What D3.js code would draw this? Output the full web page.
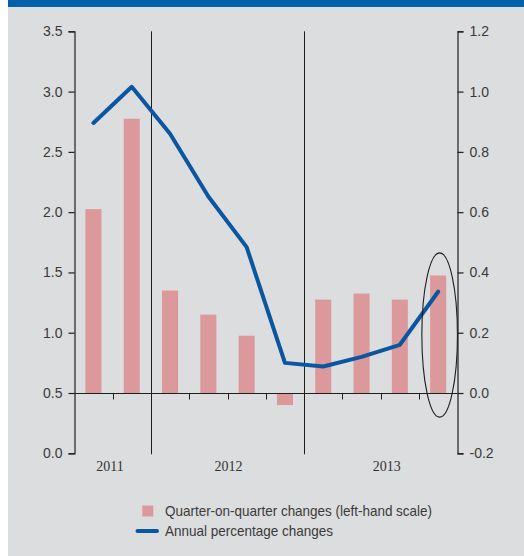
<!DOCTYPE html>
<html>
<head>
<meta charset="utf-8">
<script src="https://cdn.jsdelivr.net/npm/d3@7"></script>
<style>
  html, body { margin: 0; padding: 0; background: #ffffff; }
  svg { display: block; }
  .tick text { font-family: "Liberation Sans", Arial, sans-serif; font-size: 14px; fill: #3a3a3a; }
</style>
</head>
<body>
<svg id="chart" width="524" height="556"></svg>
<script>
// Quarters shown on the chart, grouped by year
const quarters = ["2011 Q3", "2011 Q4", "2012 Q1", "2012 Q2", "2012 Q3", "2012 Q4", "2013 Q1", "2013 Q2", "2013 Q3", "2013 Q4"];
const years = ["2011", "2012", "2013"];

// Quarter-on-quarter changes (bars)
const qoqChanges = [0.61, 0.91, 0.34, 0.26, 0.19, -0.04, 0.31, 0.33, 0.31, 0.39];
// Annual percentage changes (line)
const annualChanges = [2.74, 3.04, 2.65, 2.13, 1.71, 0.75, 0.72, 0.80, 0.90, 1.34];

// Axis ticks
const leftTicks = [0, 0.5, 1.0, 1.5, 2.0, 2.5, 3.0, 3.5];
const rightTicks = [-0.2, 0, 0.2, 0.4, 0.6, 0.8, 1.0, 1.2];

// Legend entries
const legendLabels = ["Quarter-on-quarter changes (left-hand scale)", "Annual percentage changes"];

// Highlighted latest quarter (ellipse extent on the right-hand scale)
const highlightQuarter = "2013 Q4";
const highlightRange = [-0.08, 0.465];

const svg = d3.select("#chart");
const W = 524, H = 556;

// Panel background and top band
svg.append("rect").attr("x", 8).attr("y", 0).attr("width", W - 8).attr("height", H).attr("fill", "#dcdddf");
svg.append("rect").attr("x", 8).attr("y", 0).attr("width", W - 8).attr("height", 7).attr("fill", "#0060a9");

const plot = { left: 74.3, right: 457.3, top: 31.3, bottom: 453.3 };

const x = d3.scaleBand().domain(quarters).range([plot.left, plot.right]).paddingInner(0.58).paddingOuter(0.29);
const xStep = d3.scaleBand().domain(quarters).range([plot.left, plot.right]);
const yLeft = d3.scaleLinear().domain([0, 3.5]).range([plot.bottom, plot.top]);
const yRight = d3.scaleLinear().domain([-0.2, 1.2]).range([plot.bottom, plot.top]);

const axisColor = "#1e1e1e";
const fmt = d => d3.format(".1f")(d).replace("\u2212", "-");

// Bars
svg.append("g").selectAll("rect").data(qoqChanges).join("rect")
  .attr("x", (d, i) => x(quarters[i]))
  .attr("width", x.bandwidth())
  .attr("y", d => yRight(Math.max(0, d)))
  .attr("height", d => Math.abs(yRight(d) - yRight(0)))
  .attr("fill", "#dc999c");

// Year dividers
const yearStart = years.map(y => quarters.findIndex(q => q.startsWith(y)));
svg.append("g").selectAll("line").data(yearStart.slice(1)).join("line")
  .attr("x1", i => Math.round(xStep(quarters[i])) + 0.5)
  .attr("x2", i => Math.round(xStep(quarters[i])) + 0.5)
  .attr("y1", plot.top).attr("y2", plot.bottom + 1)
  .attr("stroke", axisColor).attr("stroke-width", 1);

// Zero line with quarter separators
const zeroY = Math.round(yRight(0)) + 0.5;
svg.append("line").attr("x1", plot.left).attr("x2", plot.right)
  .attr("y1", zeroY).attr("y2", zeroY).attr("stroke", axisColor).attr("stroke-width", 1.2);
const sepIdx = d3.range(1, quarters.length).filter(i => !yearStart.includes(i));
svg.append("g").selectAll("line").data(sepIdx).join("line")
  .attr("x1", i => Math.round(xStep(quarters[i])) + 0.5)
  .attr("x2", i => Math.round(xStep(quarters[i])) + 0.5)
  .attr("y1", zeroY).attr("y2", zeroY + 6)
  .attr("stroke", axisColor).attr("stroke-width", 1);

// Left axis
const gl = svg.append("g").attr("transform", `translate(${Math.round(plot.left) + 0.5},0)`)
  .call(d3.axisLeft(yLeft).tickValues(leftTicks).tickFormat(fmt).tickSize(6).tickPadding(6));
// Right axis
const gr = svg.append("g").attr("transform", `translate(${Math.round(plot.right) + 0.5},0)`)
  .call(d3.axisRight(yRight).tickValues(rightTicks).tickFormat(fmt).tickSize(6).tickPadding(6));
[gl, gr].forEach(g => {
  g.selectAll("path, line").attr("stroke", axisColor).attr("stroke-width", 1.2);
  g.selectAll("text").attr("fill", "#3a3a3a");
});

// Annual line
const line = d3.line().x((d, i) => x(quarters[i]) + x.bandwidth() / 2).y(d => yLeft(d));
svg.append("path").datum(annualChanges).attr("d", line)
  .attr("fill", "none").attr("stroke", "#0a56a0").attr("stroke-width", 4)
  .attr("stroke-linejoin", "round").attr("stroke-linecap", "round");

// Highlight ellipse
svg.append("ellipse")
  .attr("cx", x(highlightQuarter) + x.bandwidth() / 2 + 1.5)
  .attr("cy", (yRight(highlightRange[0]) + yRight(highlightRange[1])) / 2)
  .attr("rx", 17.8)
  .attr("ry", Math.abs(yRight(highlightRange[0]) - yRight(highlightRange[1])) / 2)
  .attr("fill", "none").attr("stroke", "#1e1e1e").attr("stroke-width", 1.1);

// Year labels
const labelOffset = { "2011": -2.5, "2012": 1, "2013": 6 };
svg.append("g").selectAll("text").data(years).join("text")
  .attr("x", (y) => {
    const qs = quarters.filter(q => q.startsWith(y));
    const a = xStep(qs[0]), b = xStep(qs[qs.length - 1]) + xStep.bandwidth();
    return (a + b) / 2 + labelOffset[y];
  })
  .attr("y", 471)
  .attr("text-anchor", "middle")
  .attr("font-family", "'Liberation Serif', 'Times New Roman', serif")
  .attr("font-size", 14)
  .attr("fill", "#333")
  .text(d => d);

// Legend (condensed text run)
const lg = svg.append("g").attr("font-family", "'Liberation Sans', Arial, sans-serif")
  .attr("font-size", 14.5).attr("fill", "#3a3a3a");
lg.append("rect").attr("x", 142.3).attr("y", 505.5).attr("width", 11).attr("height", 11).attr("fill", "#dc999c");
lg.append("text").attr("x", 165).attr("y", 515.5)
  .attr("textLength", 267).attr("lengthAdjust", "spacingAndGlyphs").text(legendLabels[0]);
lg.append("line").attr("x1", 137.5).attr("x2", 157).attr("y1", 531).attr("y2", 531)
  .attr("stroke", "#0a56a0").attr("stroke-width", 4).attr("stroke-linecap", "round");
lg.append("text").attr("x", 165).attr("y", 536)
  .attr("textLength", 168).attr("lengthAdjust", "spacingAndGlyphs").text(legendLabels[1]);
</script>
</body>
</html>
